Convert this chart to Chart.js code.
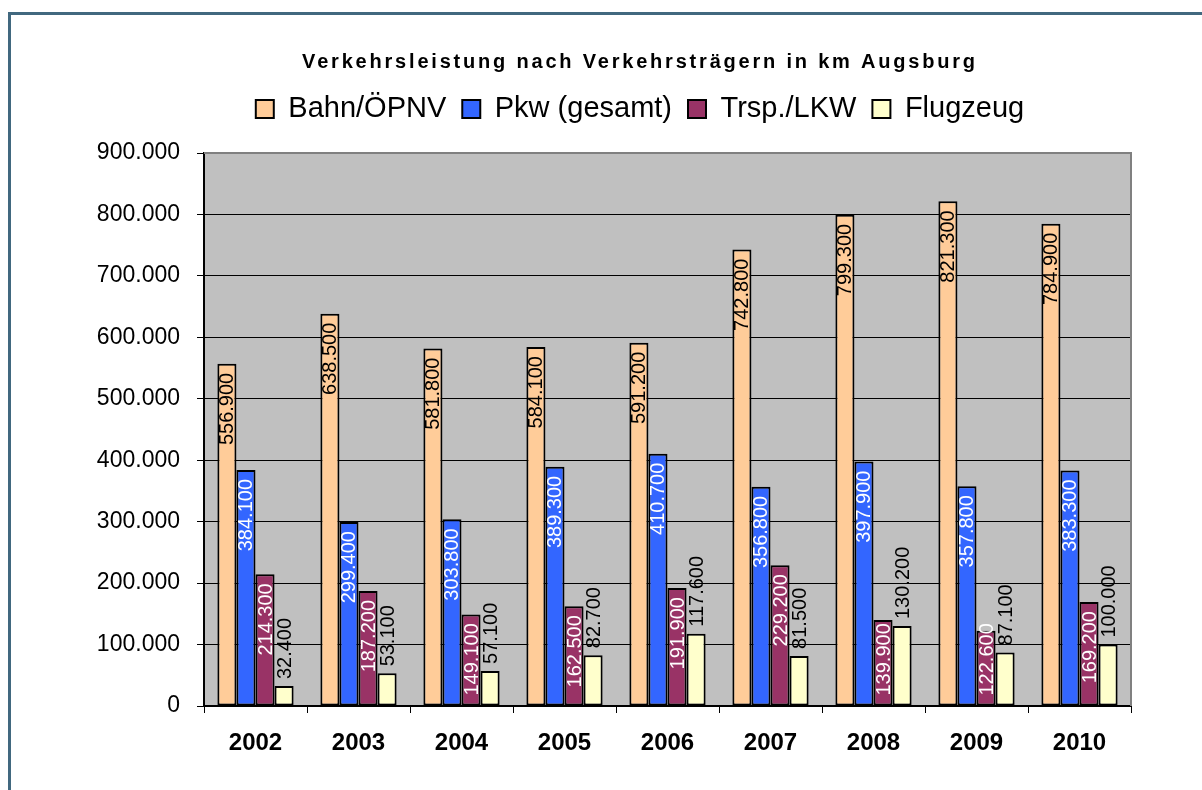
<!DOCTYPE html>
<html>
<head>
<meta charset="utf-8">
<script src="https://cdn.jsdelivr.net/npm/chart.js@4.4.1/dist/chart.umd.min.js"></script>
<style>
  html, body { margin: 0; padding: 0; background: #fff; }
  #chart { display: block; }
</style>
</head>
<body>
<canvas id="chart" width="1202" height="790"></canvas>
<script>
const years = ['2002', '2003', '2004', '2005', '2006', '2007', '2008', '2009', '2010'];
const bahn = [556900, 638500, 581800, 584100, 591200, 742800, 799300, 821300, 784900];
const pkw = [384100, 299400, 303800, 389300, 410700, 356800, 397900, 357800, 383300];
const trsp = [214300, 187200, 149100, 162500, 191900, 229200, 139900, 122600, 169200];
const flug = [32400, 53100, 57100, 82700, 117600, 81500, 130200, 87100, 100000];
const seriesNames = ['Bahn/ÖPNV', 'Pkw (gesamt)', 'Trsp./LKW', 'Flugzeug'];

const FONT = '"Liberation Sans", Arial, sans-serif';

function formatDE(v) {
  return String(v).replace(/\B(?=(\d{3})+(?!\d))/g, '.');
}

// tweaks: extra space under the legend, letter-spaced title,
// title + legend centred a bit left of the plot like the original
const layoutTweaks = {
  id: 'layoutTweaks',
  afterInit(chart) {
    const lg = chart.legend;
    const fit = lg.fit;
    lg.fit = function() {
      fit.call(this);
      this.height += 19.5;
    };
    const tb = chart.titleBlock;
    const draw = tb.draw;
    tb.draw = function() {
      this.ctx.save();
      this.ctx.letterSpacing = '2.8px';
      draw.call(this);
      this.ctx.restore();
    };
  },
  afterLayout(chart) {
    chart.titleBlock.left = 149;
    chart.legend.left = 149;
  }
};

// page frame + grey plot area
const frameAndPlot = {
  id: 'frameAndPlot',
  beforeDraw(chart) {
    const { ctx, chartArea: a } = chart;
    ctx.save();
    ctx.strokeStyle = '#41687f';
    ctx.lineWidth = 3;
    ctx.strokeRect(9.5, 13.5, 1400, 1000);
    ctx.fillStyle = '#c0c0c0';
    ctx.fillRect(a.left, a.top, a.right - a.left, a.bottom - a.top);
    ctx.restore();
  },
  afterDraw(chart) {
    const { ctx, chartArea: a } = chart;
    ctx.save();
    ctx.strokeStyle = '#808080';
    ctx.lineWidth = 2;
    ctx.beginPath();
    ctx.moveTo(a.left, a.top);
    ctx.lineTo(a.right, a.top);
    ctx.lineTo(a.right, a.bottom);
    ctx.stroke();
    ctx.restore();
  }
};

// rotated value labels like the Excel original
const valueLabels = {
  id: 'valueLabels',
  afterDatasetsDraw(chart) {
    const ctx = chart.ctx;
    const colors = ['#000', '#fff', '#fff', '#000'];
    ctx.save();
    ctx.font = '20px ' + FONT;
    ctx.textBaseline = 'middle';
    chart.data.datasets.forEach((ds, di) => {
      const meta = chart.getDatasetMeta(di);
      meta.data.forEach((bar, i) => {
        const text = formatDE(ds.data[i]);
        const len = ctx.measureText(text).width;
        const { x, y, base } = bar.getProps(['x', 'y', 'base'], true);
        ctx.fillStyle = colors[di];
        let start;
        if (di === 3) {
          start = y - 7 - len;
        } else {
          start = Math.min(y + 9, base - 10 - len);
        }
        ctx.save();
        ctx.translate(x + 1, start + len);
        ctx.rotate(-Math.PI / 2);
        ctx.textAlign = 'left';
        ctx.fillText(text, 0, 0);
        ctx.restore();
      });
    });
    ctx.restore();
  }
};

const colorsFill = ['#ffcc99', '#3366ff', '#993366', '#ffffcc'];
const allSeries = [bahn, pkw, trsp, flug];

new Chart(document.getElementById('chart'), {
  type: 'bar',
  data: {
    labels: years,
    datasets: allSeries.map((d, i) => ({
      label: seriesNames[i],
      data: d,
      backgroundColor: colorsFill[i],
      borderColor: '#000',
      borderWidth: 2,
      borderSkipped: false,
      barPercentage: 1,
      categoryPercentage: 0.74
    }))
  },
  options: {
    responsive: false,
    animation: false,
    layout: { padding: { left: 0, right: 71, top: 0, bottom: 0 } },
    plugins: {
      title: {
        display: true,
        text: 'Verkehrsleistung nach Verkehrsträgern in km Augsburg',
        color: '#000',
        font: { family: FONT, size: 20, weight: 'bold' },
        padding: { top: 50, bottom: 4.5 }
      },
      legend: {
        display: true,
        labels: {
          color: '#000',
          font: { family: FONT, size: 29 },
          boxWidth: 18,
          boxHeight: 18,
          padding: 16
        }
      },
      tooltip: { enabled: false }
    },
    scales: {
      x: {
        grid: { display: true, drawOnChartArea: false, drawTicks: true, tickLength: 7, color: '#000', offset: true },
        border: { color: '#000', width: 2 },
        ticks: { color: '#000', font: { family: FONT, size: 24, weight: 'bold' }, padding: 15.6, maxRotation: 0 },
        afterFit(scale) { scale.height = 84; }
      },
      y: {
        min: 0,
        max: 900000,
        ticks: {
          stepSize: 100000,
          color: '#000',
          padding: 17,
          font: { family: FONT, size: 23 },
          callback: (v) => formatDE(v)
        },
        grid: { color: '#000', lineWidth: 1, tickLength: 7 },
        border: { color: '#000', width: 2 },
        afterFit(scale) { scale.width = 204; }
      }
    }
  },
  plugins: [layoutTweaks, frameAndPlot, valueLabels]
});
</script>
</body>
</html>
